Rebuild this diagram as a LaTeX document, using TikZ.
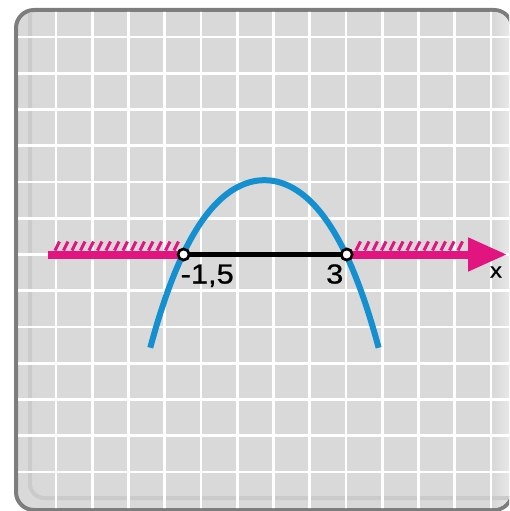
\documentclass[tikz,border=0pt]{standalone}
\usepackage{fontspec}
\setmainfont{Liberation Sans}
\newfontfamily\lblfont[FakeStretch=1.12,FakeBold=0.8]{Liberation Sans}
\usetikzlibrary{arrows.meta}
\definecolor{bgfill}{RGB}{217,217,217}
\definecolor{framegray}{RGB}{125,125,125}
\definecolor{bevelgray}{RGB}{203,203,203}
\definecolor{lightedge}{RGB}{232,232,232}
\definecolor{curveblue}{RGB}{20,143,208}
\definecolor{axmag}{RGB}{226,20,128}
\tikzset{
  gridline/.style={draw=white, line width=2.6pt},
  axisline/.style={draw=axmag, line width=8pt},
  axisarrow/.style={draw=axmag, line width=8pt, -{Triangle[length=39pt,width=32pt]}},
  hatchline/.style={draw=axmag, line width=3pt},
  segline/.style={draw=black, line width=5.5pt},
  curveline/.style={draw=curveblue, line width=6pt, line cap=butt},
  ptnode/.style={circle, draw=black, fill=white, line width=2.6pt, minimum size=11pt, inner sep=0pt},
  lbl/.style={inner sep=0pt, font=\lblfont\fontsize{27.5}{27.5}\selectfont},
  xlbl/.style={inner sep=0pt, font=\lblfont\fontsize{21}{21}\selectfont}
}
\begin{document}
\begin{tikzpicture}[x=1pt,y=-1pt]
\useasboundingbox (0,0) rectangle (509,511);
\begin{scope}
\clip (0,0) rectangle (509,511);
% frame
\draw[fill=bgfill, draw=framegray, line width=4pt, rounded corners=18pt] (16,10) rectangle (512,510);
\begin{scope}
\clip[rounded corners=16pt] (18,12) rectangle (510,508);
% right light strip
\shade[left color=bgfill, right color=lightedge] (494,0) rectangle (509,520);
% bevel
\draw[bevelgray, line width=4pt, rounded corners=14pt] (30,12) -- (30,498) -- (515,498);
% grid
\foreach \k in {0,...,12} {
  \draw[gridline] ({56+36.25*\k},0) -- ++(0,520);
  \draw[gridline] (0,{37+36.25*\k}) -- ++(520,0);
}
\end{scope}
\end{scope}
% points
\node[ptnode] (A) at (183.6,254.5) {};
\node[ptnode] (B) at (346.75,254.5) {};
% axis
\coordinate (axstart) at (48,254.5);
\coordinate (axend) at (507,254.5);
\draw[axisline] (axstart) -- (A.center);
\draw[axisarrow] (B.center) -- (axend);
% hatches
\foreach \hx in {55,63.5,...,178} \draw[hatchline] (\hx,250.5) -- ++(4.5,-9);
\foreach \hx in {356,364.5,...,462} \draw[hatchline] (\hx,250.5) -- ++(4.5,-9);
\draw[segline] (A.center) -- (B.center);
% curve
\draw[curveline] plot[domain=-2.4:3.9, samples=90, smooth] ({237.25+36.25*\x}, {254.5-36.25*(2.05-0.342*(\x-0.75)^2-0.01248*(\x-0.75)^4)});
\node[ptnode] (A2) at (A) {};
\node[ptnode] (B2) at (B) {};
% labels
\node[lbl, anchor=base west] (la) at (180.5,283.5) {-1,5};
\node[lbl, anchor=base east] (lb) at (343.5,283.5) {3};
\node[xlbl, anchor=base] (lx) at (496,277.5) {x};
\end{tikzpicture}
\end{document}
